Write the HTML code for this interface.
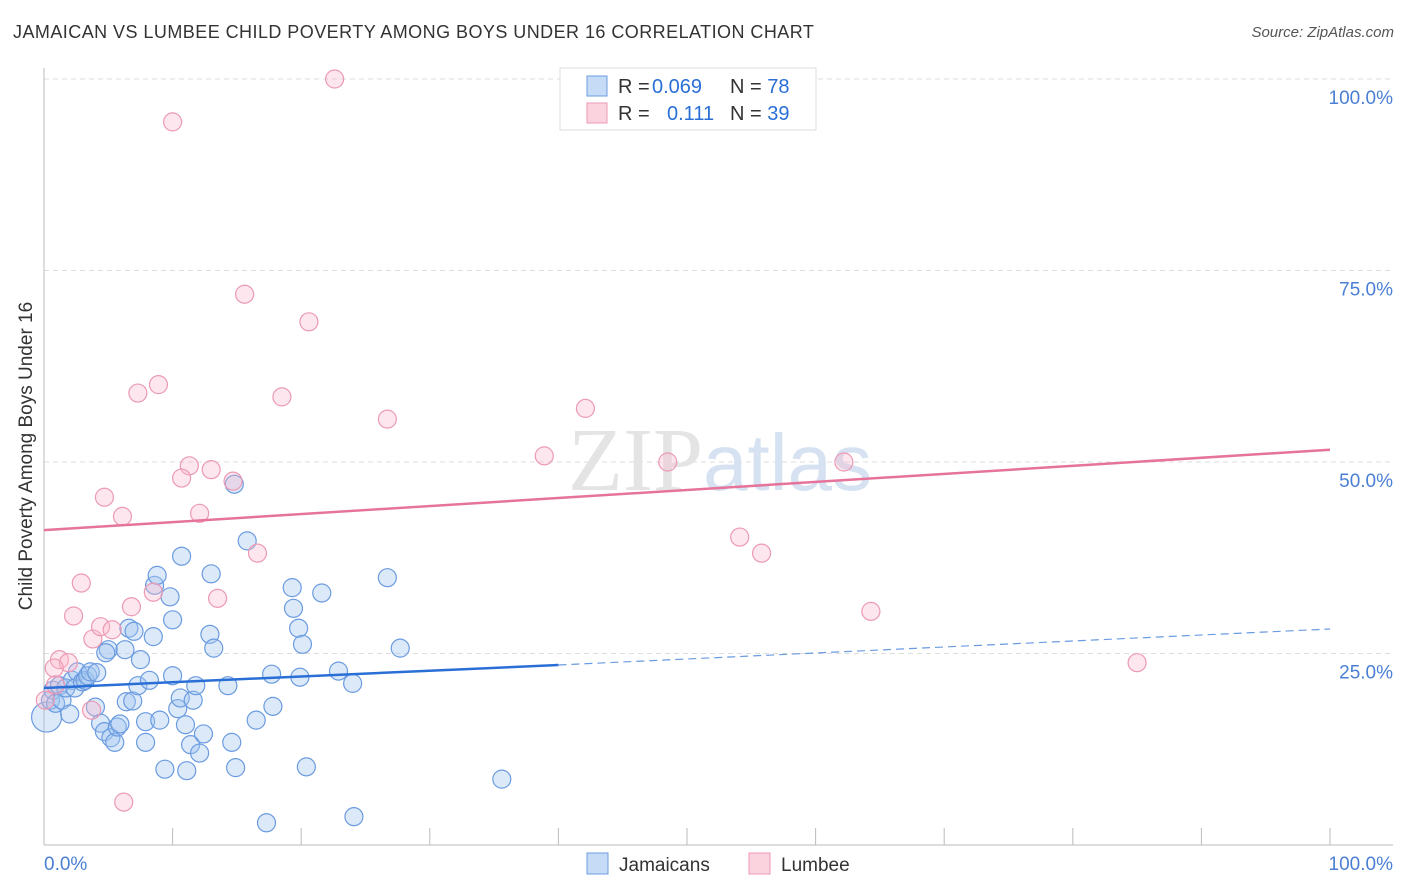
<!DOCTYPE html>
<html><head><meta charset="utf-8"><style>
body{margin:0;background:#fff;font-family:"Liberation Sans",sans-serif;}
#wrap{position:relative;width:1406px;height:892px;overflow:hidden;}
.t{position:absolute;white-space:nowrap;}
</style></head><body>
<div id="wrap">
<div class="t" style="left:13px;top:22px;font-size:18px;letter-spacing:0.45px;color:#333;">JAMAICAN VS LUMBEE CHILD POVERTY AMONG BOYS UNDER 16 CORRELATION CHART</div>
<div class="t" style="right:12px;top:24px;font-size:15px;color:#555;font-style:italic;">Source: ZipAtlas.com</div>
<div class="t" style="left:27px;top:456px;font-size:19px;color:#333;transform:translate(-50%,-50%) rotate(-90deg);">Child Poverty Among Boys Under 16</div>
<svg id="plot" width="1406" height="892" style="position:absolute;left:0;top:0"></svg>
</div>
<script>
const blueX=[0.2,0.5,0.7,0.9,1.2,1.4,1.7,2.0,2.2,2.4,2.6,3.0,3.2,3.4,3.6,4.1,4.4,4.0,4.7,5.0,4.8,5.2,5.5,5.7,5.9,6.3,6.4,6.6,6.9,7.0,7.5,7.3,7.9,7.9,8.2,8.5,8.6,8.8,9.4,9.0,9.8,10.0,10.0,10.4,10.6,10.7,11.0,11.1,11.4,11.6,11.8,12.1,12.4,12.9,13.0,13.2,14.3,14.6,14.9,14.8,15.8,16.5,17.3,17.7,17.8,19.3,19.4,19.8,19.9,20.1,20.4,21.6,22.9,24.0,24.1,26.7,27.7,35.6];
const blueY=[16.7,18.9,20.2,18.5,20.8,18.9,20.5,17.1,21.5,20.5,22.6,21.3,21.5,22.1,22.6,22.5,15.9,18.0,14.8,25.5,25.1,14.0,13.4,15.4,15.8,25.5,18.7,28.3,18.8,27.9,24.2,20.8,16.1,13.4,21.5,27.2,33.9,35.2,9.9,16.3,32.4,22.1,29.4,17.8,19.2,37.7,15.7,9.7,13.1,18.9,20.8,12.0,14.5,27.5,35.4,25.7,20.8,13.4,10.1,47.1,39.7,16.3,2.9,22.3,18.1,33.6,30.9,28.3,21.9,26.2,10.2,32.9,22.7,21.1,3.7,34.9,25.7,8.6];
const pinkX=[22.6,10.0,15.6,20.6,8.9,7.3,18.5,26.7,42.1,38.9,48.5,62.2,11.3,10.7,13.0,14.7,4.7,6.1,12.1,54.1,55.8,16.6,2.9,8.5,13.5,6.8,64.3,2.3,3.8,4.4,5.3,1.2,1.9,0.8,0.9,3.7,85.0,6.2,0.1];
const pinkY=[100.0,94.4,71.9,68.3,60.1,59.0,58.5,55.6,57.0,50.8,50.0,50.0,49.5,47.9,49.0,47.5,45.4,42.9,43.3,40.2,38.1,38.1,34.2,33.0,32.2,31.1,30.5,29.9,26.9,28.5,28.1,24.2,23.8,23.1,20.9,17.6,23.8,5.6,18.9];
const blueTrend=[20.5,23.5,28.2]; // y at x=0, 40, 100
const pinkTrend=[41.1,51.6];      // y at x=0, 100
const yTicks=[25,50,75,100];
const yTickLabels=["25.0%","50.0%","75.0%","100.0%"];
const xTicks=[0,10,20,30,40,50,60,70,80,90,100];

const NS="http://www.w3.org/2000/svg";
const svg=document.getElementById('plot');
const X=v=>44+v*12.86, Y=v=>845-v*7.66;
function el(tag,attrs,parent){const e=document.createElementNS(NS,tag);for(const k in attrs)e.setAttribute(k,attrs[k]);(parent||svg).appendChild(e);return e;}

yTicks.forEach((t,i)=>{
  const g=el('line',{x1:44,x2:1393,y1:Y(t),y2:Y(t),stroke:'#dcdcdc','stroke-dasharray':'5,4'});
  
  
  const tx=el('text',{x:1393,y:Y(t)+25,'text-anchor':'end','font-size':19,fill:'#4a7fd4','font-family':'Liberation Sans'});
  tx.textContent=yTickLabels[i];
  
  
});
const ax=el('line',{x1:44,x2:44,y1:68,y2:845,stroke:'#bbb'});


const bx=el('line',{x1:44,x2:1393,y1:845,y2:845,stroke:'#bbb'});


xTicks.forEach(t=>{
  const l=el('line',{x1:X(t),x2:X(t),y1:828,y2:845,stroke:'#bbb'});
  
  
});
[['0.0%',44,'start'],['100.0%',1393,'end']].forEach(a=>{
  const t=el('text',{x:a[1],y:870,'text-anchor':a[2],'font-size':19,fill:'#4a7fd4','font-family':'Liberation Sans'});
  t.textContent=a[0];
  
  
});
const wm=el('text',{x:720,y:490,'text-anchor':'middle','font-size':90,'font-family':'Liberation Serif',fill:'#e4e4e4'});
wm.innerHTML='ZIP<tspan font-family="Liberation Sans" fill="#d6e2f2" font-size="80">atlas</tspan>';



blueX.forEach((x,i)=>{
  const c=el('circle',{cx:X(x),cy:Y(blueY[i]),r:i===0?15:9,fill:'rgba(160,196,240,0.38)',stroke:'#6b9be0','stroke-width':1.2});
  
  
});
pinkX.forEach((x,i)=>{
  const c=el('circle',{cx:X(x),cy:Y(pinkY[i]),r:9,fill:'rgba(248,182,202,0.35)',stroke:'#ec9ab4','stroke-width':1.2});
  
  
});
const b1=el('line',{x1:X(0),y1:Y(blueTrend[0]),x2:X(40),y2:Y(blueTrend[1]),stroke:'#2a6fd6','stroke-width':2.5});


const b2=el('line',{x1:X(40),y1:Y(blueTrend[1]),x2:X(100),y2:Y(blueTrend[2]),stroke:'#6b9be0','stroke-width':1.2,'stroke-dasharray':'8,5'});


const p1=el('line',{x1:X(0),y1:Y(pinkTrend[0]),x2:X(100),y2:Y(pinkTrend[1]),stroke:'#e6739a','stroke-width':2.5});



const lg=el('rect',{x:560,y:68,width:256,height:62,fill:'#fff',stroke:'#ddd'});


[[0,'rgba(160,196,240,0.6)','#6b9be0','0.069','78'],[27,'rgba(248,182,202,0.6)','#ec9ab4','0.111','39']].forEach(r=>{
  const s=el('rect',{x:587,y:76+r[0],width:20,height:20,fill:r[1],stroke:r[2]});
  
  
  const t=el('text',{x:618,y:93+r[0],'font-size':20,fill:'#333','font-family':'Liberation Sans'});
  t.innerHTML='R = <tspan fill="#2a6fd6" x="'+(r[0]?667:652)+'">'+r[3]+'</tspan><tspan x="730" fill="#333">N = </tspan><tspan fill="#2a6fd6">'+r[4]+'</tspan>';
  
  
});
[[587,'rgba(160,196,240,0.6)','#6b9be0','Jamaicans'],[749,'rgba(248,182,202,0.6)','#ec9ab4','Lumbee']].forEach(r=>{
  const s=el('rect',{x:r[0],y:853,width:21,height:21,fill:r[1],stroke:r[2]});
  
  
  const t=el('text',{x:r[0]+32,y:871,'font-size':19,fill:'#333','font-family':'Liberation Sans'});
  t.textContent=r[3];
  
  
});
</script>
</body></html>
